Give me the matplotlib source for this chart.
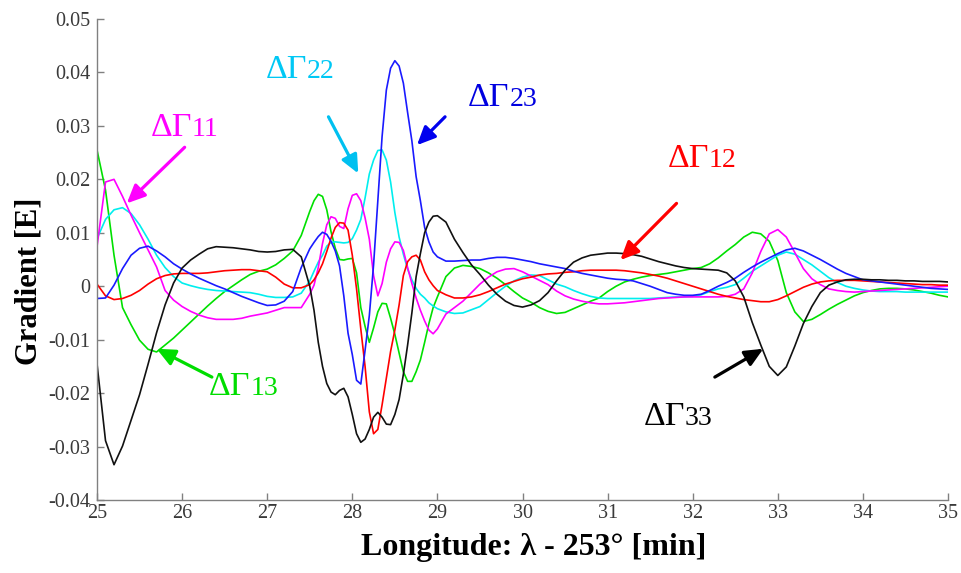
import numpy as np
import matplotlib
matplotlib.use("Agg")
import matplotlib.pyplot as plt

# Longitude sample grid (min): coarse on the flanks, finer through the central anomaly
lon = np.round(np.concatenate([np.arange(25.0, 27.55, 0.1),
                               np.arange(27.55, 29.01, 0.05),
                               np.arange(29.1, 35.01, 0.1)]), 2)

# Gradient anomalies [E]
g11 = [0.0074, 0.0195, 0.0200, 0.0168, 0.0133, 0.0100, 0.0068, 0.0036, -0.0008, -0.0026,
       -0.0038, -0.0047, -0.0054, -0.0059, -0.0062, -0.0062, -0.0062, -0.0060, -0.0056, -0.0053,
       -0.0050, -0.0045, -0.0040, -0.0040, -0.0040, -0.0015,
       0.0002, 0.0035, 0.0080, 0.0115, 0.0130, 0.0127, 0.0112, 0.0108, 0.0145, 0.0170,
       0.0173, 0.0160, 0.0128, 0.0088, 0.0020, -0.0018, 0.0005, 0.0045, 0.0070, 0.0083,
       0.0082, 0.0067, 0.0035, 0.0005, -0.0022, -0.0045, -0.0065, -0.0082, -0.0089, -0.0080,
       -0.0052, -0.0040, -0.0028, -0.0012, 0.0004, 0.0017, 0.0027, 0.0032, 0.0033,
       0.0027, 0.0019, 0.0011, 0.0003, -0.0009, -0.0018, -0.0024, -0.0028, -0.0031, -0.0033,
       -0.0033, -0.0032, -0.0031, -0.0029, -0.0027, -0.0025, -0.0023, -0.0022, -0.0021, -0.0020,
       -0.0020, -0.0020, -0.0020, -0.0020, -0.0019, -0.0015, -0.0005, 0.0025, 0.0065, 0.0098,
       0.0106, 0.0092, 0.0063, 0.0033, 0.0014, 0.0003, -0.0005, -0.0008, -0.0010, -0.0011,
       -0.0010, -0.0009, -0.0008, -0.0007, -0.0006, -0.0005, -0.0004, -0.0003, -0.0002, -0.0001, 0.0000]

g12 = [0.0004, -0.0018, -0.0025, -0.0023, -0.0017, -0.0008, 0.0004, 0.0014, 0.0020, 0.0023,
       0.0024, 0.0024, 0.0024, 0.0025, 0.0027, 0.0029, 0.0030, 0.0031, 0.0031, 0.0029,
       0.0027, 0.0017, 0.0004, -0.0003, -0.0003, 0.0003,
       0.0012, 0.0025, 0.0042, 0.0065, 0.0090, 0.0110, 0.0119, 0.0118, 0.0105, 0.0058,
       -0.0005, -0.0080, -0.0150, -0.0235, -0.0276, -0.0268, -0.0222, -0.0172, -0.0122, -0.0082,
       -0.0035, 0.0020, 0.0046, 0.0055, 0.0058, 0.0049, 0.0027, 0.0012, 0.0001, -0.0008,
       -0.0016, -0.0022, -0.0022, -0.0020, -0.0016, -0.0010, -0.0003, 0.0004, 0.0009,
       0.0014, 0.0017, 0.0021, 0.0023, 0.0024, 0.0026, 0.0027, 0.0029, 0.0030, 0.0030,
       0.0030, 0.0030, 0.0029, 0.0027, 0.0025, 0.0022, 0.0019, 0.0015, 0.0010, 0.0005,
       0.0000, -0.0005, -0.0010, -0.0015, -0.0019, -0.0022, -0.0025, -0.0027, -0.0029, -0.0029,
       -0.0025, -0.0018, -0.0010, -0.0002, 0.0004, 0.0008, 0.0010, 0.0011, 0.0011, 0.0011,
       0.0010, 0.0009, 0.0008, 0.0007, 0.0006, 0.0005, 0.0004, 0.0003, 0.0003, 0.0002, 0.0002]

g13 = [0.0255, 0.0180, 0.0058, -0.0040, -0.0072, -0.0101, -0.0118, -0.0123, -0.0110, -0.0097,
       -0.0082, -0.0067, -0.0052, -0.0037, -0.0023, -0.0010, 0.0001, 0.0012, 0.0022, 0.0028,
       0.0032, 0.0040, 0.0052, 0.0066, 0.0095, 0.0140,
       0.0160, 0.0172, 0.0168, 0.0143, 0.0102, 0.0071, 0.0050, 0.0049, 0.0051, 0.0052,
       0.0025, -0.0040, -0.0075, -0.0105, -0.0078, -0.0048, -0.0032, -0.0033, -0.0060, -0.0090,
       -0.0125, -0.0160, -0.0178, -0.0178, -0.0160, -0.0138, -0.0105, -0.0070, -0.0040, -0.0020,
       0.0018, 0.0034, 0.0039, 0.0037, 0.0033, 0.0025, 0.0015, 0.0003, -0.0010,
       -0.0022, -0.0030, -0.0040, -0.0047, -0.0051, -0.0049, -0.0042, -0.0035, -0.0028, -0.0022,
       -0.0010, 0.0000, 0.0008, 0.0013, 0.0017, 0.0020, 0.0022, 0.0024, 0.0027, 0.0030,
       0.0033, 0.0035, 0.0042, 0.0053, 0.0066, 0.0078, 0.0092, 0.0101, 0.0098, 0.0084,
       0.0048, -0.0012, -0.0048, -0.0066, -0.0062, -0.0053, -0.0043, -0.0034, -0.0026, -0.0018,
       -0.0012, -0.0008, -0.0005, -0.0004, -0.0004, -0.0005, -0.0007, -0.0010, -0.0013, -0.0017, -0.0020]

g22 = [0.0089, 0.0125, 0.0143, 0.0147, 0.0136, 0.0115, 0.0088, 0.0058, 0.0035, 0.0018,
       0.0006, 0.0001, -0.0003, -0.0006, -0.0008, -0.0009, -0.0010, -0.0011, -0.0012, -0.0015,
       -0.0019, -0.0021, -0.0021, -0.0020, -0.0013, 0.0010,
       0.0028, 0.0045, 0.0058, 0.0075, 0.0082, 0.0083, 0.0082, 0.0081, 0.0082, 0.0089,
       0.0105, 0.0125, 0.0165, 0.0210, 0.0236, 0.0254, 0.0255, 0.0236, 0.0195, 0.0138,
       0.0092, 0.0060, 0.0032, 0.0012, -0.0004, -0.0015, -0.0022, -0.0031, -0.0037, -0.0042,
       -0.0048, -0.0051, -0.0050, -0.0044, -0.0038, -0.0025, -0.0012, 0.0000, 0.0010,
       0.0017, 0.0021, 0.0020, 0.0012, 0.0004, -0.0001, -0.0008, -0.0014, -0.0019, -0.0022,
       -0.0023, -0.0023, -0.0023, -0.0023, -0.0023, -0.0023, -0.0022, -0.0021, -0.0020, -0.0020,
       -0.0019, -0.0016, -0.0010, -0.0005, -0.0002, 0.0003, 0.0015, 0.0028, 0.0038, 0.0048,
       0.0058, 0.0064, 0.0060, 0.0050, 0.0040, 0.0028, 0.0016, 0.0007, 0.0000, -0.0004,
       -0.0007, -0.0009, -0.0010, -0.0010, -0.0010, -0.0011, -0.0011, -0.0011, -0.0011, -0.0011, -0.0011]

g23 = [-0.0023, -0.0022, 0.0002, 0.0033, 0.0058, 0.0071, 0.0075, 0.0066, 0.0055, 0.0042,
       0.0032, 0.0023, 0.0015, 0.0008, 0.0001, -0.0005, -0.0012, -0.0019, -0.0025, -0.0031,
       -0.0036, -0.0035, -0.0028, -0.0010, 0.0035, 0.0070,
       0.0082, 0.0093, 0.0101, 0.0097, 0.0084, 0.0066, 0.0038, -0.0018, -0.0088, -0.0128,
       -0.0176, -0.0183, -0.0120, -0.0055, 0.0040, 0.0160, 0.0280, 0.0367, 0.0408, 0.0422,
       0.0412, 0.0380, 0.0325, 0.0272, 0.0205, 0.0160, 0.0110, 0.0083, 0.0064, 0.0055,
       0.0047, 0.0047, 0.0048, 0.0049, 0.0049, 0.0052, 0.0054, 0.0054, 0.0052,
       0.0049, 0.0046, 0.0042, 0.0039, 0.0036, 0.0033, 0.0028, 0.0024, 0.0021, 0.0018,
       0.0015, 0.0013, 0.0012, 0.0010, 0.0005, 0.0000, -0.0006, -0.0012, -0.0015, -0.0017,
       -0.0017, -0.0015, -0.0008, 0.0000, 0.0007, 0.0015, 0.0026, 0.0036, 0.0045, 0.0053,
       0.0061, 0.0068, 0.0071, 0.0066, 0.0058, 0.0050, 0.0041, 0.0032, 0.0024, 0.0018,
       0.0012, 0.0010, 0.0008, 0.0006, 0.0004, 0.0002, 0.0000, -0.0002, -0.0004, -0.0005, -0.0006]

g33 = [-0.0145, -0.0289, -0.0334, -0.0299, -0.0251, -0.0203, -0.0146, -0.0087, -0.0035, 0.0006,
       0.0034, 0.0049, 0.0060, 0.0070, 0.0074, 0.0073, 0.0072, 0.0070, 0.0068, 0.0065,
       0.0064, 0.0065, 0.0068, 0.0069, 0.0055, 0.0000,
       -0.0045, -0.0105, -0.0150, -0.0182, -0.0198, -0.0203, -0.0195, -0.0191, -0.0207, -0.0240,
       -0.0276, -0.0292, -0.0286, -0.0268, -0.0245, -0.0236, -0.0245, -0.0258, -0.0259, -0.0240,
       -0.0212, -0.0165, -0.0110, -0.0050, 0.0018, 0.0061, 0.0100, 0.0120, 0.0131, 0.0132,
       0.0120, 0.0088, 0.0063, 0.0040, 0.0022, 0.0002, -0.0015, -0.0028, -0.0036,
       -0.0039, -0.0035, -0.0027, -0.0012, 0.0010, 0.0030, 0.0045, 0.0053, 0.0058, 0.0060,
       0.0062, 0.0062, 0.0061, 0.0059, 0.0056, 0.0051, 0.0046, 0.0042, 0.0038, 0.0035,
       0.0033, 0.0032, 0.0031, 0.0030, 0.0025, 0.0010, -0.0020, -0.0068, -0.0110, -0.0150,
       -0.0167, -0.0151, -0.0112, -0.0070, -0.0038, -0.0012, 0.0002, 0.0008, 0.0012, 0.0013,
       0.0013, 0.0012, 0.0012, 0.0011, 0.0011, 0.0010, 0.0010, 0.0009, 0.0009, 0.0009, 0.0008]

x_ticks = [25, 26, 27, 28, 29, 30, 31, 32, 33, 34, 35]
x_tick_labels = ["25", "26", "27", "28", "29", "30", "31", "32", "33", "34", "35"]
y_ticks = [-0.04, -0.03, -0.02, -0.01, 0.0, 0.01, 0.02, 0.03, 0.04, 0.05]
y_tick_labels = ["-0.04", "-0.03", "-0.02", "-0.01", "0", "0.01", "0.02", "0.03", "0.04", "0.05"]

series = [
    (g13, "#00e000"),
    (g22, "#00eeee"),
    (g11, "#ff00ff"),
    (g12, "#ff0000"),
    (g23, "#1a1aff"),
    (g33, "#111111"),
]

# label: (subscript, text anchor (x, y), arrow tail, arrow tip, text colour, arrow colour)
labels = [
    ("11", (26.113, 0.0281), (26.03, 0.0260), (25.35, 0.0155), "#ff00ff", "#ff00ff"),
    ("22", (27.464, 0.0389), (27.72, 0.0317), (28.07, 0.0211), "#00c8f5", "#00c0f0"),
    ("23", (29.847, 0.0337), (29.09, 0.0317), (28.76, 0.0264), "#0000e0", "#0000ee"),
    ("12", (32.19, 0.0223), (31.81, 0.0155), (31.15, 0.0049), "#ff0000", "#ff0000"),
    ("13", (26.80, -0.0204), (26.35, -0.0170), (25.70, -0.0117), "#00dd00", "#00dd00"),
    ("33", (31.91, -0.0260), (32.26, -0.0170), (32.83, -0.0117), "#000000", "#000000"),
]

serif = "Liberation Serif"

fig = plt.figure(figsize=(9.61, 5.73), dpi=100)
ax = fig.add_axes([97 / 961, 1 - 500 / 573, (948 - 97) / 961, (500 - 19) / 573])

for vals, col in series:
    ax.plot(lon, vals, color=col, lw=1.2, solid_joinstyle="round")

ax.set_xlim(25, 35)
ax.set_ylim(-0.04, 0.05)
ax.set_xticks(x_ticks)
ax.set_xticklabels(x_tick_labels)
ax.set_yticks(y_ticks)
ax.set_yticklabels(y_tick_labels)
for lab in ax.get_xticklabels() + ax.get_yticklabels():
    lab.set_fontfamily(serif)
    lab.set_fontsize(14.5)
    lab.set_color("#3a3a3a")
ax.tick_params(axis="both", direction="in", length=5, width=1, color="#808080")
ax.tick_params(axis="x", pad=3)
ax.tick_params(axis="y", pad=5)
for s in ["top", "right"]:
    ax.spines[s].set_visible(False)
for s in ["left", "bottom"]:
    ax.spines[s].set_color("#808080")
    ax.spines[s].set_linewidth(1.0)

for sub, (tx, ty), tail, tip, tcol, acol in labels:
    ax.text(tx, ty, "\u0394\u0393", ha="right", va="baseline", fontsize=24.5,
            fontfamily=serif, color=tcol)
    ax.text(tx, ty, sub, ha="left", va="baseline", fontsize=20,
            fontfamily=serif, color=tcol)
    ax.annotate("", xy=tip, xytext=tail,
                arrowprops=dict(arrowstyle="-|>,head_length=0.55,head_width=0.25",
                                mutation_scale=20, lw=2.3, color=acol,
                                shrinkA=0, shrinkB=0))

fig.text(534 / 961, 1 - 548 / 573, "Longitude: \u03bb - 253\u00b0 [min]", ha="center",
         va="center", fontsize=23, fontweight="bold", fontfamily=serif)
fig.text(29 / 961, 1 - 281 / 573, "Gradient [E]", ha="center", va="center",
         rotation=90, fontsize=22, fontweight="bold", fontfamily=serif)

fig.savefig("out.png", dpi=100)
